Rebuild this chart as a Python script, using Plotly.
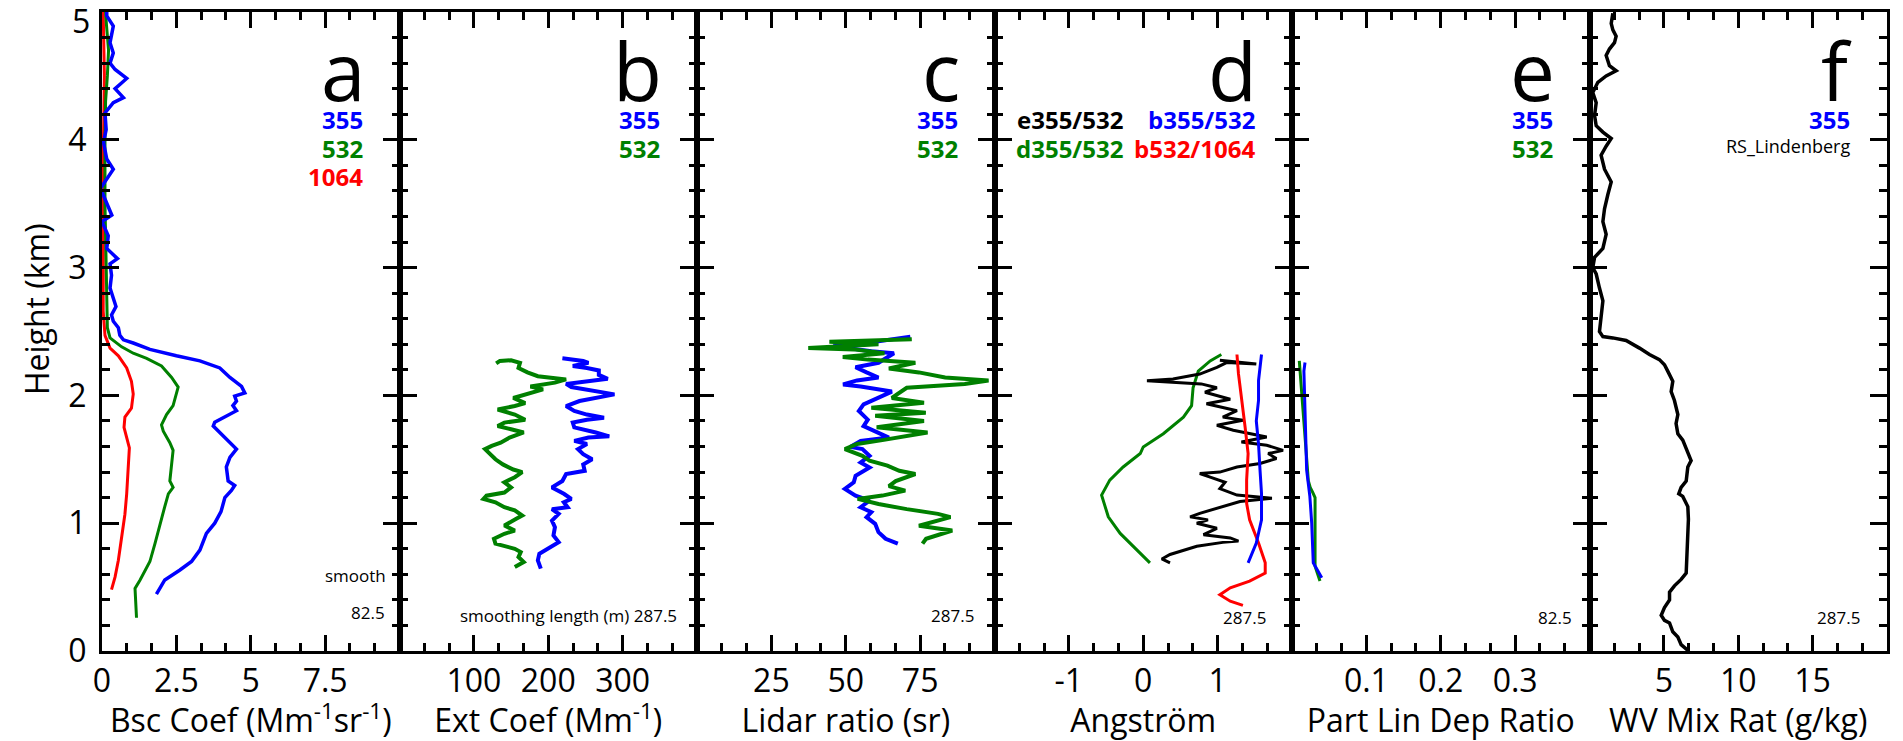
import plotly.graph_objects as go

# ---------------- data (height in km) -------------
# Panel a: backscatter coefficient (Mm-1 sr-1)
bsc355_h = [0.445,0.556,0.634,0.70,0.79,0.92,1.0,1.09,1.2,1.256,1.295,1.33,1.44,1.515,1.58,1.63,1.70,1.76,1.79,1.84,1.88,1.92,1.955,1.995,2.02,2.07,2.14,2.215,2.27,2.31,2.36,2.41,2.435,2.47,2.53,2.58,2.63,2.695,2.76,2.84,2.94,3.03,3.07,3.15,3.25,3.36,3.41,3.51,3.62,3.77,3.85,3.98,4.08,4.21,4.29,4.33,4.40,4.48,4.55,4.60,4.68,4.76,4.89,4.97,5.0]
bsc355_v = [1.83,2.11,2.62,3.01,3.29,3.51,3.79,4.0,4.13,4.35,4.46,4.24,4.18,4.3,4.52,4.3,4.0,3.74,3.79,4.18,4.52,4.4,4.52,4.46,4.8,4.69,4.3,3.96,3.29,2.5,1.61,1.05,0.72,0.6,0.55,0.38,0.32,0.47,0.38,0.27,0.32,0.27,0.52,0.16,0.21,0.0,0.33,0.16,-0.05,0.38,0.16,0.05,0.14,0.1,0.38,0.72,0.44,0.83,0.44,0.27,0.38,0.27,0.38,0.16,0.16]
bsc532_h = [0.26,0.49,0.556,0.70,0.84,1.0,1.13,1.23,1.28,1.33,1.46,1.57,1.63,1.72,1.77,1.85,1.92,2.01,2.065,2.14,2.23,2.29,2.33,2.38,2.45,2.53,2.785,3.04,3.5,4.0,4.3,4.5,4.7,4.9,5.0]
bsc532_v = [1.16,1.11,1.28,1.61,1.78,1.95,2.11,2.23,2.39,2.28,2.34,2.39,2.28,2.06,2.0,2.17,2.39,2.5,2.56,2.34,2.0,1.5,1.05,0.66,0.27,0.18,0.16,0.13,0.1,0.1,0.12,0.18,0.22,0.15,0.12]
bsc1064_h = [0.48,0.58,0.71,0.89,1.07,1.23,1.39,1.59,1.67,1.75,1.83,1.90,2.01,2.11,2.215,2.31,2.37,2.47,2.66,3.04,3.5,4.0,4.5,4.8,5.0]
bsc1064_v = [0.32,0.44,0.55,0.66,0.77,0.83,0.88,0.92,0.83,0.74,0.77,0.99,1.05,0.99,0.83,0.55,0.27,0.1,0.04,0.04,0.04,0.05,0.08,0.06,0.04]

# Panel b: extinction coefficient (Mm-1)
ext355_h = [0.644,0.709,0.76,0.80,0.852,0.904,0.969,1.02,1.073,1.11,1.125,1.164,1.19,1.23,1.28,1.33,1.385,1.41,1.46,1.50,1.54,1.58,1.62,1.644,1.67,1.68,1.71,1.75,1.787,1.81,1.826,1.85,1.878,1.917,1.956,2.008,2.034,2.065,2.09,2.11,2.13,2.16,2.195,2.215,2.23,2.255,2.27,2.29]
ext355_v = [190,186,188,200,214,207,209,205,214,205,226,221,231,221,205,219,224,249,247,259,247,240,252,235,254,282,264,235,233,252,275,252,235,224,242,289,261,231,224,252,280,268,268,252,233,254,247,219]
ext532_h = [0.657,0.696,0.735,0.774,0.80,0.84,0.878,0.917,0.943,0.982,1.034,1.06,1.10,1.125,1.164,1.19,1.215,1.24,1.28,1.32,1.36,1.40,1.42,1.46,1.50,1.55,1.58,1.605,1.63,1.67,1.71,1.735,1.76,1.787,1.81,1.85,1.89,1.917,1.94,1.98,2.02,2.047,2.07,2.10,2.125,2.15,2.18,2.215,2.255,2.275,2.27,2.25]
ext532_v = [155,167,160,163,155,129,127,141,155,141,157,165,155,141,129,113,117,141,150,141,155,165,153,139,129,120,115,124,136,148,167,150,132,141,169,155,132,155,169,153,179,193,176,209,224,186,172,160,162,150,135,130]

# Panel c: lidar ratio (sr)
lr355_h = [0.84,0.878,0.93,0.995,1.047,1.086,1.125,1.177,1.216,1.268,1.32,1.37,1.436,1.475,1.527,1.58,1.597,1.644,1.67,1.71,1.76,1.81,1.878,1.93,1.98,2.03,2.07,2.086,2.117,2.14,2.18,2.22,2.255,2.33,2.345,2.385,2.42,2.46]
lr355_v = [67.5,63.4,61,59.9,57,58.6,55,58,53.3,49.7,52.7,53.3,58,55,58,55.6,51.5,55,64.5,61,56,57.4,54.4,56,61,65.5,55,49.1,53.8,61,57,53.3,61,66.2,58.6,45.8,59.9,71.7]
lr532_h = [0.84,0.878,0.943,0.97,0.98,1.047,1.073,1.11,1.15,1.19,1.216,1.255,1.29,1.33,1.385,1.41,1.45,1.49,1.527,1.58,1.62,1.65,1.71,1.75,1.80,1.84,1.865,1.904,1.943,1.98,2.06,2.09,2.117,2.14,2.18,2.21,2.255,2.28,2.30,2.33,2.36,2.37,2.40,2.42,2.44]
lr532_v = [75.8,77,85.8,78.7,74.6,85.2,81,70.5,61,54,62.3,70,64.5,66.8,73.4,68,64,58,55.6,49.7,53.8,62.3,77.5,60.4,76.3,59.9,76.9,58.6,76.3,65.5,70.5,90,98,83.4,74.6,64.5,73.4,57.4,49,63,52.7,37.4,61,44.5,72.2]

# Panel d: Angstrom exponents
ae_e_h = [0.69,0.72,0.755,0.82,0.85,0.86,0.885,0.91,0.96,1.0,1.026,1.05,1.077,1.13,1.17,1.195,1.22,1.27,1.32,1.36,1.389,1.40,1.44,1.467,1.506,1.545,1.57,1.61,1.636,1.675,1.727,1.766,1.805,1.83,1.88,1.934,1.97,2.025,2.06,2.09,2.10,2.115,2.128,2.167,2.219,2.257,2.245,2.275]
ae_e_v = [0.36,0.25,0.36,0.72,1.07,1.28,1.17,0.81,0.99,0.72,0.87,0.63,0.76,1.07,1.3,1.73,1.26,1.03,1.1,0.9,0.76,1.03,1.26,1.57,1.79,1.68,1.88,1.66,1.32,1.66,1.21,0.99,1.34,1.07,1.26,0.85,1.17,0.83,0.99,0.78,0.49,0.05,0.4,0.76,0.99,1.12,1.52,1.03]
ae_d_h = [0.69,0.79,0.92,1.05,1.22,1.337,1.44,1.545,1.597,1.70,1.83,1.92,2.06,2.19,2.27,2.32]
ae_d_v = [0.09,-0.09,-0.31,-0.47,-0.56,-0.45,-0.27,-0.04,0.0,0.27,0.54,0.65,0.67,0.74,0.9,1.05]
ae_b355_h = [0.69,0.845,1.026,1.234,1.415,1.62,1.80,1.96,2.115,2.245,2.32]
ae_b355_v = [1.41,1.52,1.59,1.59,1.57,1.55,1.52,1.55,1.55,1.57,1.59]
ae_b532_h = [0.357,0.39,0.44,0.495,0.547,0.61,0.69,0.845,1.026,1.155,1.337,1.545,1.75,1.985,2.17,2.32]
ae_b532_v = [1.34,1.17,1.03,1.17,1.43,1.64,1.64,1.55,1.43,1.39,1.39,1.41,1.37,1.32,1.28,1.26]

# Panel e: particle linear depolarisation ratio
dep355_h = [0.573,0.69,1.0,1.21,1.415,1.80,2.19,2.257]
dep355_v = [0.040,0.0286,0.0265,0.024,0.0197,0.0175,0.016,0.0175]
dep532_h = [0.547,0.663,1.0,1.2,1.24,1.28,1.33,2.04,2.19,2.27]
dep532_v = [0.0376,0.031,0.031,0.031,0.028,0.0245,0.022,0.013,0.0108,0.0098]

# Panel f: water vapour mixing ratio (g/kg)
wv_h = [0.005,0.05,0.11,0.15,0.22,0.24,0.28,0.34,0.40,0.46,0.51,0.56,0.61,0.71,0.82,0.92,1.03,1.13,1.21,1.23,1.28,1.33,1.44,1.49,1.59,1.65,1.70,1.78,1.85,1.96,2.03,2.11,2.19,2.24,2.28,2.32,2.37,2.43,2.45,2.46,2.50,2.61,2.74,2.84,2.95,3.0,3.08,3.15,3.26,3.36,3.46,3.57,3.67,3.77,3.88,3.95,4.01,4.06,4.11,4.19,4.29,4.37,4.45,4.5,4.54,4.58,4.66,4.71,4.76,4.81,4.86,4.91,4.99]
wv_v = [6.61,6.16,5.94,5.6,5.38,5.04,4.82,5.04,5.38,5.38,5.71,6.16,6.5,6.54,6.61,6.61,6.65,6.61,6.27,6.0,6.16,6.5,6.61,6.83,6.5,6.27,5.94,5.82,5.94,5.71,5.49,5.6,5.26,5.04,4.7,4.03,3.36,2.46,1.57,0.9,0.67,0.78,0.9,0.67,0.45,0.22,0.34,0.9,1.12,0.9,1.01,1.23,1.46,1.01,0.78,1.12,1.46,0.9,0.45,0.34,0.45,0.22,0.56,1.12,1.79,1.34,1.12,1.34,1.68,1.79,1.57,1.46,1.57]

# axis settings
x_ranges = [[0, 10], [0, 400], [0, 100], [-2, 2], [0, 0.4], [0, 20]]
x_tickvals = [[0, 2.5, 5, 7.5], [100, 200, 300], [25, 50, 75], [-1, 0, 1], [0.1, 0.2, 0.3], [5, 10, 15]]
x_ticktext = [["0", "2.5", "5", "7.5"], ["100", "200", "300"], ["25", "50", "75"], ["-1", "0", "1"], ["0.1", "0.2", "0.3"], ["5", "10", "15"]]
x_major = [2.5, 100, 25, 1, 0.1, 5]
x_titles = ["Bsc Coef (Mm<sup>-1</sup>sr<sup>-1</sup>)", "Ext Coef (Mm<sup>-1</sup>)", "Lidar ratio (sr)",
            "Angström", "Part Lin Dep Ratio", "WV Mix Rat (g/kg)"]
panel_letters = ["a", "b", "c", "d", "e", "f"]
y_tickvals = [0, 1, 2, 3, 4]
y_ticktext = ["0", "1", "2", "3", "4"]

BLUE, GREEN, RED, BLACK = "#0000ff", "#008000", "#ff0000", "#000000"
FONT = "Open Sans"

fig = go.Figure()

def add(panel, h, v, color, width=3):
    ax = "" if panel == 0 else str(panel + 1)
    fig.add_trace(go.Scatter(x=v, y=h, mode="lines", line=dict(color=color, width=width),
                             xaxis="x" + ax, yaxis="y" + ax, hoverinfo="skip"))

add(0, bsc1064_h, bsc1064_v, RED)
add(0, bsc532_h, bsc532_v, GREEN)
add(0, bsc355_h, bsc355_v, BLUE, 3.5)
add(1, ext532_h, ext532_v, GREEN, 4)
add(1, ext355_h, ext355_v, BLUE, 4)
add(2, lr355_h, lr355_v, BLUE, 4)
add(2, lr532_h, lr532_v, GREEN, 4)
add(3, ae_d_h, ae_d_v, GREEN)
add(3, ae_e_h, ae_e_v, BLACK)
add(3, ae_b532_h, ae_b532_v, RED)
add(3, ae_b355_h, ae_b355_v, BLUE)
add(4, dep532_h, dep532_v, GREEN)
add(4, dep355_h, dep355_v, BLUE)
add(5, wv_h, wv_v, BLACK, 3.5)

layout = dict(width=1903, height=741, margin=dict(l=102, r=16, t=9, b=89, pad=0),
              plot_bgcolor="white", paper_bgcolor="white", showlegend=False,
              font=dict(family=FONT, color="black", size=32))

for i in range(6):
    ax = "" if i == 0 else str(i + 1)
    layout["xaxis" + ax] = dict(
        domain=[i / 6, (i + 1) / 6], anchor="y" + ax, range=x_ranges[i],
        tickmode="array", tickvals=x_tickvals[i], ticktext=x_ticktext[i],
        ticks="inside", ticklen=16, tickwidth=3, tickcolor="black",
        minor=dict(ticks="inside", ticklen=8, tickwidth=3, tickcolor="black",
                   tick0=x_ranges[i][0], dtick=x_major[i] / 3, showgrid=False),
        showline=True, linewidth=3, linecolor="black", mirror="allticks",
        showgrid=False, zeroline=False, tickfont=dict(size=32, family=FONT),
        title=dict(text=x_titles[i], font=dict(size=32, family=FONT), standoff=8),
        fixedrange=True)
    ydef = dict(
        domain=[0, 1], anchor="x" + ax, range=[0, 5],
        tickmode="array", tickvals=y_tickvals, ticktext=y_ticktext,
        ticks="inside", ticklen=17, tickwidth=3, tickcolor="black",
        minor=dict(ticks="inside", ticklen=8, tickwidth=3, tickcolor="black",
                   tick0=0, dtick=0.2, showgrid=False),
        showline=True, linewidth=3, linecolor="black", mirror="allticks",
        showgrid=False, zeroline=False, tickfont=dict(size=32, family=FONT),
        showticklabels=(i == 0), ticklabelstandoff=6, fixedrange=True)
    if i > 0:
        ydef["matches"] = "y"
    layout["yaxis" + ax] = ydef

fig.update_layout(**layout)

ann = []
# top tick label "5" (shifted inside, as in the reference)
ann.append(dict(text="5", xref="paper", yref="y", x=0, y=5, xanchor="right", yanchor="middle",
                xshift=-10, yshift=-8, showarrow=False, font=dict(size=32, family=FONT)))
# y title
ann.append(dict(text="Height (km)", xref="paper", yref="paper", x=-0.037, y=0.535, textangle=-90,
                xanchor="center", yanchor="middle", showarrow=False, font=dict(size=32, family=FONT)))

def dom(i):
    return ("x" if i == 0 else "x" + str(i + 1)) + " domain"

def ydom(i):
    return ("y" if i == 0 else "y" + str(i + 1)) + " domain"

def px_to_dom(ypx):
    return (652 - ypx) / 643.0

for i, L in enumerate(panel_letters):
    ann.append(dict(text=L, xref=dom(i), yref=ydom(i), x=1, y=px_to_dom(67), xanchor="right",
                    yanchor="middle", xshift=-33, showarrow=False, font=dict(size=80, family=FONT)))

def lab(i, text, ypx, color, size=24, bold=True, xshift=-35):
    t = "<b>" + text + "</b>" if bold else text
    ann.append(dict(text=t, xref=dom(i), yref=ydom(i), x=1, y=px_to_dom(ypx), xanchor="right",
                    yanchor="middle", xshift=xshift, showarrow=False,
                    font=dict(size=size, family=FONT, color=color)))

lab(0, "355", 117, BLUE); lab(0, "532", 146, GREEN); lab(0, "1064", 175, RED)
lab(1, "355", 117, BLUE); lab(1, "532", 146, GREEN)
lab(2, "355", 117, BLUE); lab(2, "532", 146, GREEN)
lab(3, "b355/532", 117, BLUE); lab(3, "b532/1064", 146, RED)
lab(3, "e355/532", 117, BLACK, xshift=-167); lab(3, "d355/532", 146, GREEN, xshift=-167)
lab(4, "355", 117, BLUE); lab(4, "532", 146, GREEN)
lab(5, "355", 117, BLUE); lab(5, "RS_Lindenberg", 144, BLACK, size=18, bold=False)

# smoothing notes
lab(0, "smooth", 576, BLACK, size=17, bold=False, xshift=-12)
lab(0, "82.5", 613, BLACK, size=17, bold=False, xshift=-13)
lab(1, "smoothing length (m) 287.5", 616, BLACK, size=17, bold=False, xshift=-18)
lab(2, "287.5", 616, BLACK, size=17, bold=False, xshift=-19)
lab(3, "287.5", 618, BLACK, size=17, bold=False, xshift=-24)
lab(4, "82.5", 618, BLACK, size=17, bold=False, xshift=-16)
lab(5, "287.5", 618, BLACK, size=17, bold=False, xshift=-25)

fig.update_layout(annotations=ann)
fig.write_html("out.html")
